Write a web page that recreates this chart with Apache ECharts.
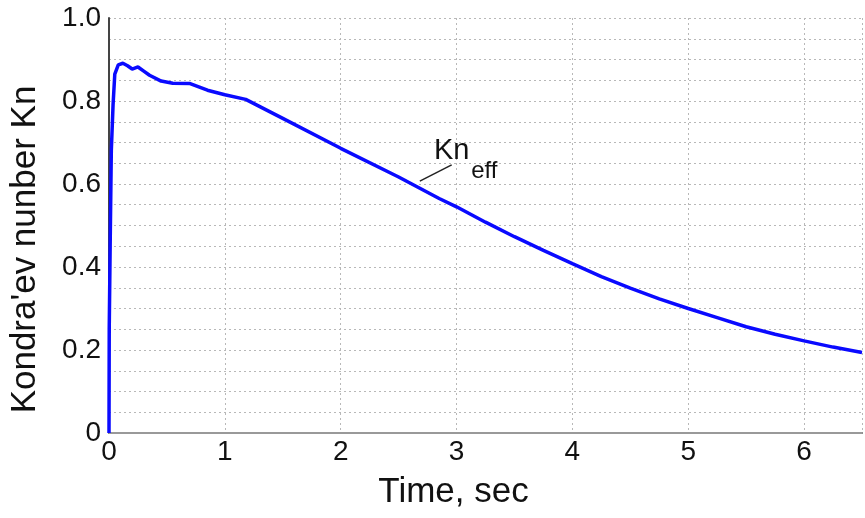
<!DOCTYPE html>
<html>
<head>
<meta charset="utf-8">
<script src="https://cdn.jsdelivr.net/npm/echarts@6/dist/echarts.min.js"></script>
<style>
  html, body { margin: 0; padding: 0; background: #fff; }
  #chart { width: 865px; height: 518px; }
</style>
</head>
<body>
<div id="chart"></div>
<script>
// time, sec
const timeSec = [0, 0.002, 0.01, 0.02, 0.035, 0.05, 0.08, 0.12, 0.16, 0.2, 0.25, 0.3, 0.35, 0.45,
    0.55, 0.7, 0.85, 1.0, 1.18, 1.5, 2.0, 2.5, 2.85, 3.0, 3.25, 3.5, 3.75, 4.0, 4.25, 4.5, 4.75,
    5.0, 5.25, 5.5, 5.75, 6.0, 6.25, 6.5];
// Kn_eff
const knEff = [0, 0.25, 0.45, 0.68, 0.79, 0.865, 0.887, 0.891, 0.885, 0.877, 0.882, 0.872, 0.862, 0.848,
    0.843, 0.842, 0.826, 0.815, 0.804, 0.758, 0.686, 0.617, 0.565, 0.545, 0.508, 0.473, 0.440, 0.408, 0.377, 0.349, 0.323,
    0.300, 0.278, 0.256, 0.238, 0.222, 0.207, 0.194];
// подпись кривой
const leader = [[2.683, 0.607], [2.958, 0.646]];
const labelKn = [2.958, 0.68];
const labelEff = [3.24, 0.631];

const font = 'Liberation Sans, Arial, sans-serif';
const gridDot = {show: true, lineStyle: {color: '#b8b8b8', type: [2, 3], width: 1}};

let myChart = echarts.init(document.getElementById('chart'));
let option = {
    animation: false,
    grid: {left: 108, right: 3, top: 18, bottom: 85},
    xAxis: [{
        type: 'value',
        min: 0, max: 6.5, interval: 1,
        axisLine: {show: true, onZero: false, lineStyle: {color: '#444', width: 2}},
        axisTick: {show: false},
        axisLabel: {
            color: '#111', fontSize: 28, fontFamily: font, margin: 5,
            formatter: v => Number.isInteger(v) ? String(v) : ''
        },
        splitLine: gridDot,
        name: 'Time, sec',
        nameLocation: 'middle',
        nameGap: 42,
        nameTextStyle: {color: '#111', fontSize: 35, fontFamily: font, padding: [0, 64, 0, 0]}
    }, {
        type: 'value',
        position: 'top',
        min: 0, max: 6.5,
        axisLine: {show: true, lineStyle: {color: '#999', width: 2}},
        axisTick: {show: false},
        axisLabel: {show: false},
        splitLine: {show: false}
    }],
    yAxis: {
        type: 'value',
        min: 0, max: 1, interval: 0.2,
        axisLine: {show: true, onZero: false, lineStyle: {color: '#444', width: 2}},
        axisTick: {show: false},
        minorTick: {show: false, splitNumber: 4},
        minorSplitLine: gridDot,
        splitLine: gridDot,
        axisLabel: {
            color: '#111', fontSize: 28, fontFamily: font, margin: 8,
            formatter: v => v === 0 ? '0' : v.toFixed(1)
        },
        name: "Kondra'ev nunber Kn",
        nameLocation: 'middle',
        nameGap: 66,
        nameTextStyle: {color: '#111', fontSize: 35, fontFamily: font, padding: [0, 48, 0, 0]}
    },
    series: [{
        type: 'line',
        data: timeSec.map((t, i) => [t, knEff[i]]),
        showSymbol: false,
        lineStyle: {color: '#0a0aff', width: 3.5},
        markLine: {
            silent: true,
            symbol: 'none',
            label: {show: false},
            lineStyle: {color: '#222', type: 'solid', width: 1.5},
            data: [[{coord: leader[0]}, {coord: leader[1]}]]
        },
        markPoint: {
            silent: true,
            symbolSize: 0,
            data: [
                {coord: labelKn, label: {show: true, formatter: 'Kn', color: '#111', fontSize: 29, fontFamily: font}},
                {coord: labelEff, label: {show: true, formatter: 'eff', color: '#111', fontSize: 24, fontFamily: font}}
            ]
        }
    }]
};
myChart.setOption(option);
</script>
</body>
</html>
